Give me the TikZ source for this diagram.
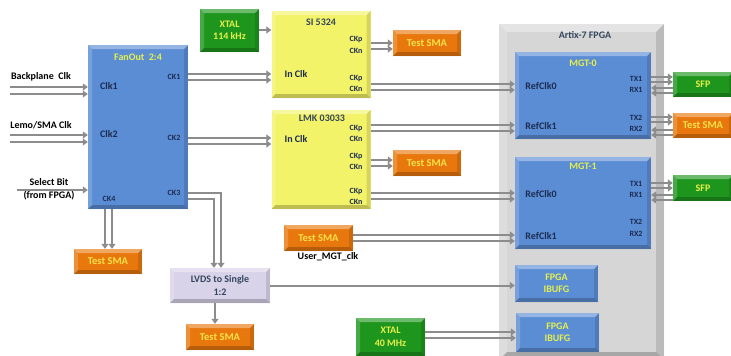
\documentclass[tikz,border=0pt]{standalone}
\usepackage{fontspec}
\setmainfont{Carlito}
\usetikzlibrary{arrows.meta}
\definecolor{bxblue}{HTML}{5B8DD4}
\definecolor{bxyellow}{HTML}{F3F36A}
\definecolor{bxgreen}{HTML}{1E961E}
\definecolor{bxorange}{HTML}{E8780E}
\definecolor{bxlav}{HTML}{D9D3EA}
\definecolor{bxgray}{HTML}{D6D6D6}
\definecolor{lncol}{HTML}{8C8C8C}
\definecolor{txnavy}{HTML}{1C2C52}
\definecolor{txslate}{HTML}{34465E}
\definecolor{txyel}{HTML}{E6F04C}
\definecolor{txorg}{HTML}{F6E24A}
\tikzset{
  bev/.style={path picture={
    \coordinate (bTL) at (path picture bounding box.north west);
    \coordinate (bTR) at (path picture bounding box.north east);
    \coordinate (bBL) at (path picture bounding box.south west);
    \coordinate (bBR) at (path picture bounding box.south east);
    \fill[white,opacity=.35] (bTL) -- (bTR) -- ([shift={(-#1,#1)}]bTR) -- ([shift={(#1,#1)}]bTL) -- cycle;
    \fill[white,opacity=.18] (bTL) -- ([shift={(#1,#1)}]bTL) -- ([shift={(#1,-#1)}]bBL) -- (bBL) -- cycle;
    \fill[black,opacity=.12] (bTR) -- ([shift={(-#1,#1)}]bTR) -- ([shift={(-#1,-#1)}]bBR) -- (bBR) -- cycle;
    \fill[black,opacity=.22] (bBL) -- ([shift={(#1,-#1)}]bBL) -- ([shift={(-#1,-#1)}]bBR) -- (bBR) -- cycle;
  }},
  bev/.default=4,
  box/.style={rectangle, inner sep=0pt, bev},
  bluebox/.style={box, fill=bxblue},
  yelbox/.style={box, fill=bxyellow},
  grnbox/.style={box, fill=bxgreen, text=txyel, font=\fontsize{10}{12.5}\selectfont\bfseries, align=center},
  orgbox/.style={box, fill=bxorange, text=txorg, font=\fontsize{10.5}{12}\selectfont\bfseries, align=center},
  lavbox/.style={box, fill=bxlav, text=txslate, font=\fontsize{10}{12.5}\selectfont\bfseries, align=center},
  graybox/.style={box, fill=bxgray, bev=8},
  ibox/.style={box, fill=bxblue, text=txyel, font=\fontsize{10}{12.5}\selectfont\bfseries, align=center},
  lbl/.style={inner sep=0pt, font=\fontsize{10}{11}\selectfont\bfseries},
  sml/.style={inner sep=0pt, font=\fontsize{8}{9}\selectfont\bfseries},
  arr/.style={draw=lncol, line width=2pt, -{Triangle[length=5pt,width=7pt]}},
}
\begin{document}
\begin{tikzpicture}[x=1pt, y=-1pt]
\useasboundingbox (0,0) rectangle (731,356);
\fill[white] (0,0) rectangle (731,356);

% FPGA container
\node[graybox, minimum width=165pt, minimum height=336pt] (fpga) at (581.5,192) {};
\node[lbl, text=txslate] (fpgaT) at (585,35) {Artix-7 FPGA};

% FanOut
\node[bluebox, minimum width=100pt, minimum height=164pt] (fan) at (138,127) {};
\node[lbl, text=txyel] (fanT) at (138,57) {FanOut\ \ 2:4};
\node[lbl, text=txnavy] (fclk1) at (109,86) {Clk1};
\node[lbl, text=txnavy] (fclk2) at (109,134) {Clk2};
\node[sml, text=txnavy] (fck1) at (174,77) {CK1};
\node[sml, text=txnavy] (fck2) at (174,138) {CK2};
\node[sml, text=txnavy] (fck3) at (174,193) {CK3};
\node[sml, text=txnavy] (fck4) at (109,199) {CK4};

% inputs
\node[lbl] (bpT) at (41,77) {Backplane\ \ Clk};
\node[lbl] (lmT) at (41,125) {Lemo/SMA Clk};
\node[lbl, align=center, font=\fontsize{10}{13}\selectfont\bfseries] (selT) at (49,189) {Select Bit\\(from FPGA)};
\coordinate (bpA) at (10,87);
\coordinate (bpB) at (10,94);
\coordinate (lmA) at (10,135);
\coordinate (lmB) at (10,142);
\coordinate (selA) at (17,190);
\draw[arr] (bpA) -- (fan.west |- bpA);
\draw[arr] (bpB) -- (fan.west |- bpB);
\draw[arr] (lmA) -- (fan.west |- lmA);
\draw[arr] (lmB) -- (fan.west |- lmB);
\draw[arr] (selA) -- (fan.west |- selA);

% XTAL 114 kHz
\node[grnbox, minimum width=59pt, minimum height=43pt] (xtal1) at (229.5,30.5) {XTAL\\114 kHz};

% SI 5324
\node[yelbox, minimum width=99pt, minimum height=87pt] (si) at (321,54.5) {};
\node[lbl, text=txslate] (siT) at (321,22) {SI 5324};
\node[lbl, text=txnavy] (siIn) at (296,74) {In Clk};
\node[sml, text=txnavy] (siP1) at (356,40) {CKp};
\node[sml, text=txnavy] (siN1) at (356,51) {CKn};
\node[sml, text=txnavy] (siP2) at (356,79) {CKp};
\node[sml, text=txnavy] (siN2) at (356,89) {CKn};

% LMK 03033
\node[yelbox, minimum width=99pt, minimum height=99pt] (lmk) at (321,159.5) {};
\node[lbl, text=txslate] (lmkT) at (322,118) {LMK 03033};
\node[lbl, text=txnavy] (lmkIn) at (296,139) {In Clk};
\node[sml, text=txnavy] (lkP1) at (356,129) {CKp};
\node[sml, text=txnavy] (lkN1) at (356,139) {CKn};
\node[sml, text=txnavy] (lkP2) at (356,157) {CKp};
\node[sml, text=txnavy] (lkN2) at (356,167) {CKn};
\node[sml, text=txnavy] (lkP3) at (356,192) {CKp};
\node[sml, text=txnavy] (lkN3) at (356,202) {CKn};

% Test SMA boxes
\node[orgbox, minimum width=68pt, minimum height=26pt] (sma1) at (427,43) {Test SMA};
\node[orgbox, minimum width=68pt, minimum height=26pt] (sma2) at (427,163) {Test SMA};
\node[orgbox, minimum width=69pt, minimum height=26pt] (sma3) at (318.5,238) {Test SMA};
\node[lbl] (userT) at (328,257) {User\_MGT\_clk};
\node[orgbox, minimum width=68pt, minimum height=26pt] (sma4) at (220,337) {Test SMA};
\node[orgbox, minimum width=68pt, minimum height=25pt] (sma5) at (108,261.5) {Test SMA};

% LVDS
\node[lavbox, minimum width=100pt, minimum height=35pt] (lvds) at (220,285.5) {LVDS to Single\\1:2};

% XTAL 40 MHz
\node[grnbox, minimum width=69pt, minimum height=38pt] (xtal2) at (390.5,337) {XTAL\\40 MHz};

% MGT-0
\node[bluebox, minimum width=136pt, minimum height=87pt] (mgt0) at (583,95.5) {};
\node[lbl, text=txyel] (mgt0T) at (583,63) {MGT-0};
\node[lbl, text=txnavy] (m0r0) at (541,86) {RefClk0};
\node[lbl, text=txnavy] (m0r1) at (541,126) {RefClk1};
\node[sml, text=txnavy] (m0t1) at (636,79) {TX1};
\node[sml, text=txnavy] (m0x1) at (636,90) {RX1};
\node[sml, text=txnavy] (m0t2) at (636,118) {TX2};
\node[sml, text=txnavy] (m0x2) at (636,129) {RX2};

% MGT-1
\node[bluebox, minimum width=136pt, minimum height=92pt] (mgt1) at (583,203) {};
\node[lbl, text=txyel] (mgt1T) at (583,166) {MGT-1};
\node[lbl, text=txnavy] (m1r0) at (541,194) {RefClk0};
\node[lbl, text=txnavy] (m1r1) at (541,236) {RefClk1};
\node[sml, text=txnavy] (m1t1) at (636,184) {TX1};
\node[sml, text=txnavy] (m1x1) at (636,195) {RX1};
\node[sml, text=txnavy] (m1t2) at (636,222) {TX2};
\node[sml, text=txnavy] (m1x2) at (636,234) {RX2};

% IBUFG
\node[ibox, minimum width=83pt, minimum height=37pt] (ib1) at (556.5,283.5) {FPGA\\IBUFG};
\node[ibox, minimum width=83pt, minimum height=39pt] (ib2) at (557.5,332.5) {FPGA\\IBUFG};

% right side
\node[grnbox, minimum width=60pt, minimum height=25pt] (sfp1) at (703,84.5) {SFP};
\node[orgbox, minimum width=60pt, minimum height=25pt] (smaR) at (703,125.5) {Test SMA};
\node[grnbox, minimum width=60pt, minimum height=26pt] (sfp2) at (703,188) {SFP};

% helper coordinates
\coordinate (y30) at (0,30);
\coordinate (y74) at (0,74);   \coordinate (y80) at (0,80);
\coordinate (y138) at (0,138); \coordinate (y144) at (0,144);
\coordinate (y43) at (0,43);   \coordinate (y49) at (0,49);
\coordinate (y84) at (0,84);   \coordinate (y90) at (0,90);
\coordinate (y125) at (0,125); \coordinate (y131) at (0,131);
\coordinate (y160) at (0,160); \coordinate (y166) at (0,166);
\coordinate (y193) at (0,193); \coordinate (y199) at (0,199);
\coordinate (y235) at (0,235); \coordinate (y241) at (0,241);
\coordinate (y332) at (0,332); \coordinate (y338) at (0,338);
\coordinate (x105) at (105,0); \coordinate (x112) at (112,0);
\coordinate (ck3o) at (221,193); \coordinate (ck3i) at (214,199);

% FanOut outputs
\draw[arr] (fan.east |- y74) -- (si.west |- y74);
\draw[arr] (fan.east |- y80) -- (si.west |- y80);
\draw[arr] (fan.east |- y138) -- (lmk.west |- y138);
\draw[arr] (fan.east |- y144) -- (lmk.west |- y144);
\draw[arr] (fan.east |- ck3o) -| (ck3o |- lvds.north);
\draw[arr] (fan.east |- ck3i) -| (ck3i |- lvds.north);
\draw[arr] (fan.south -| x105) -- (sma5.north -| x105);
\draw[arr] (fan.south -| x112) -- (sma5.north -| x112);

% XTAL to SI
\draw[arr] (xtal1.east |- y30) -- (si.west |- y30);

% SI outputs
\draw[arr] (si.east |- y43) -- (sma1.west |- y43);
\draw[arr] (si.east |- y49) -- (sma1.west |- y49);
\draw[arr] (si.east |- y84) -- (mgt0.west |- y84);
\draw[arr] (si.east |- y90) -- (mgt0.west |- y90);

% LMK outputs
\draw[arr] (lmk.east |- y125) -- (mgt0.west |- y125);
\draw[arr] (lmk.east |- y131) -- (mgt0.west |- y131);
\draw[arr] (lmk.east |- y160) -- (sma2.west |- y160);
\draw[arr] (lmk.east |- y166) -- (sma2.west |- y166);
\draw[arr] (lmk.east |- y193) -- (mgt1.west |- y193);
\draw[arr] (lmk.east |- y199) -- (mgt1.west |- y199);

% user SMA
\draw[arr] (sma3.east |- y235) -- (mgt1.west |- y235);
\draw[arr] (sma3.east |- y241) -- (mgt1.west |- y241);

% LVDS
\draw[arr] (lvds.east) -- (ib1.west |- lvds.east);
\draw[arr] ([xshift=-5pt]lvds.south) -- ([xshift=-5pt]sma4.north);

% XTAL 40
\draw[arr] (xtal2.east |- y332) -- (ib2.west |- y332);
\draw[arr] (xtal2.east |- y338) -- (ib2.west |- y338);

% TX/RX
\coordinate (a77) at (0,77); \coordinate (a82) at (0,82);
\coordinate (a88) at (0,88); \coordinate (a93) at (0,93);
\coordinate (a117) at (0,117); \coordinate (a122) at (0,122);
\coordinate (a130) at (0,130); \coordinate (a135) at (0,135);
\coordinate (a183) at (0,183); \coordinate (a188) at (0,188);
\coordinate (a195) at (0,195); \coordinate (a200) at (0,200);
\draw[arr] (mgt0.east |- a77) -- (sfp1.west |- a77);
\draw[arr] (mgt0.east |- a82) -- (sfp1.west |- a82);
\draw[arr] (sfp1.west |- a88) -- (mgt0.east |- a88);
\draw[arr] (sfp1.west |- a93) -- (mgt0.east |- a93);
\draw[arr] (mgt0.east |- a117) -- (smaR.west |- a117);
\draw[arr] (mgt0.east |- a122) -- (smaR.west |- a122);
\draw[arr] (smaR.west |- a130) -- (mgt0.east |- a130);
\draw[arr] (smaR.west |- a135) -- (mgt0.east |- a135);
\draw[arr] (mgt1.east |- a183) -- (sfp2.west |- a183);
\draw[arr] (mgt1.east |- a188) -- (sfp2.west |- a188);
\draw[arr] (sfp2.west |- a195) -- (mgt1.east |- a195);
\draw[arr] (sfp2.west |- a200) -- (mgt1.east |- a200);
\end{tikzpicture}
\end{document}
